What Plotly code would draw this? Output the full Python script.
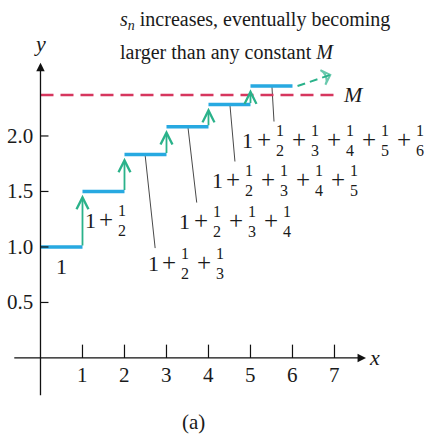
import plotly.graph_objects as go

# Harmonic partial sums s_n = 1 + 1/2 + ... + 1/n
denominators = [1, 2, 3, 4, 5, 6]
partial_sums = []
total = 0.0
for d in denominators:
    total += 1.0 / d
    partial_sums.append(total)

M_value = 2.37
x_ticks = [1, 2, 3, 4, 5, 6, 7]
y_ticks = [0.5, 1.0, 1.5, 2.0]
y_tick_labels = ["0.5", "1.0", "1.5", "2.0"]

# anchor (data coords) of the leading "1" of each sum label
label_anchors = [(0.51, 0.82), (1.18, 1.24), (2.68, 0.85),
                 (3.44, 1.23), (4.21, 1.60), (4.94, 1.96)]
# leader lines: (x on step, x at label, y at label)
leaders = [(2.49, 2.73, 0.99), (3.51, 3.72, 1.40),
           (4.51, 4.63, 1.77), (5.51, 5.56, 2.13)]

BLUE = "#27a9e1"
GREEN = "#2ab28a"
RED = "#d6365e"
FONT = "Liberation Serif"

fig = go.Figure()

# leader lines
lx, ly = [], []
for (x0, x1, y1), n in zip(leaders, [3, 4, 5, 6]):
    lx += [x0, x1, None]
    ly += [partial_sums[n - 1], y1, None]
fig.add_trace(go.Scatter(x=lx, y=ly, mode="lines",
                         line=dict(color="#333333", width=0.9), hoverinfo="skip"))

# constant M
fig.add_trace(go.Scatter(x=[0, 7], y=[M_value, M_value], mode="lines",
                         line=dict(color=RED, width=2.5, dash="13px,7px"), hoverinfo="skip"))

# steps
sx, sy = [], []
for n, s in enumerate(partial_sums, start=1):
    sx += [n - 1, n, None]
    sy += [s, s, None]
fig.add_trace(go.Scatter(x=sx, y=sy, mode="lines",
                         line=dict(color=BLUE, width=3.5), hoverinfo="skip"))

# dashed continuation beyond n = 6
dash_x = [6.12, 6.90]
dash_y = [partial_sums[5], 2.55]
fig.add_trace(go.Scatter(x=dash_x, y=dash_y, mode="lines",
                         line=dict(color=GREEN, width=2, dash="8px,5px"),
                         hoverinfo="skip"))
fig.add_trace(go.Scatter(x=dash_x, y=dash_y, mode="markers",
                         marker=dict(symbol=["circle", "arrow-wide-open"], size=[0, 11],
                                     angleref="previous", color=GREEN,
                                     line=dict(color=GREEN, width=2)),
                         hoverinfo="skip"))

ann = []
# green rise arrows
for n in range(1, 6):
    ann.append(dict(x=n, y=partial_sums[n] - 0.03, ax=n, ay=partial_sums[n - 1],
                    xref="x", yref="y", axref="x", ayref="y", showarrow=True,
                    arrowhead=5, arrowsize=1.3, arrowwidth=1.8, arrowcolor=GREEN, text=""))

# axes with arrowheads
ann.append(dict(x=7.75, y=0, ax=-0.66, ay=0, xref="x", yref="y", axref="x", ayref="y",
                showarrow=True, arrowhead=2, arrowsize=1.3, arrowwidth=1.3,
                arrowcolor="#111111", text=""))
ann.append(dict(x=0, y=2.66, ax=0, ay=-0.35, xref="x", yref="y", axref="x", ayref="y",
                showarrow=True, arrowhead=2, arrowsize=1.3, arrowwidth=1.3,
                arrowcolor="#111111", text=""))

shapes = []
for t in x_ticks:
    shapes.append(dict(type="line", x0=t, x1=t, y0=0, y1=0.12, xref="x", yref="y",
                       line=dict(color="#111111", width=1.2)))
for t in y_ticks:
    shapes.append(dict(type="line", x0=0, x1=0.19, y0=t, y1=t, xref="x", yref="y",
                       line=dict(color="#111111", width=1.2)))

def txt(x, y, s, size=20, xanchor="center", xshift=0, yshift=0):
    ann.append(dict(x=x, y=y, text=s, xref="x", yref="y", showarrow=False,
                    xanchor=xanchor, yanchor="middle", xshift=xshift, yshift=yshift,
                    font=dict(family=FONT, size=size, color="#1a1a1a")))

for t in x_ticks:
    txt(t, -0.15, str(t), size=21)
for t, lab in zip(y_ticks, y_tick_labels):
    txt(-0.12, t, lab, xanchor="right", size=21)

txt(7.95, 0.0, "<i>x</i>", size=22)
txt(0.0, 2.83, "<i>y</i>", size=22)
txt(7.45, M_value, "<i>M</i>", size=22)
txt(3.64, -0.58, "(a)", size=21)

# title
txt(1.84, 3.04, "<i>s<sub>n</sub></i> increases, eventually becoming", size=20, xanchor="left")
txt(1.84, 2.75, "larger than any constant <i>M</i>", size=20, xanchor="left")

# sum labels with stacked fractions
for (ax_, ay_), n in zip(label_anchors, denominators):
    txt(ax_, ay_, "1", size=22)
    for k in range(2, n + 1):
        off = 32 + 35 * (k - 2)
        txt(ax_, ay_, "+", size=25, xshift=off - 16, yshift=1)
        txt(ax_, ay_, "1", size=16, xshift=off, yshift=10)
        txt(ax_, ay_, str(k), size=16, xshift=off, yshift=-10)

fig.update_layout(
    width=430, height=434, margin=dict(l=0, r=0, t=0, b=0),
    paper_bgcolor="white", plot_bgcolor="white", showlegend=False,
    xaxis=dict(range=[-0.964, 9.274], visible=False, fixedrange=True),
    yaxis=dict(range=[-0.685, 3.225], visible=False, fixedrange=True),
    annotations=ann, shapes=shapes,
)
fig.write_html("out.html")
